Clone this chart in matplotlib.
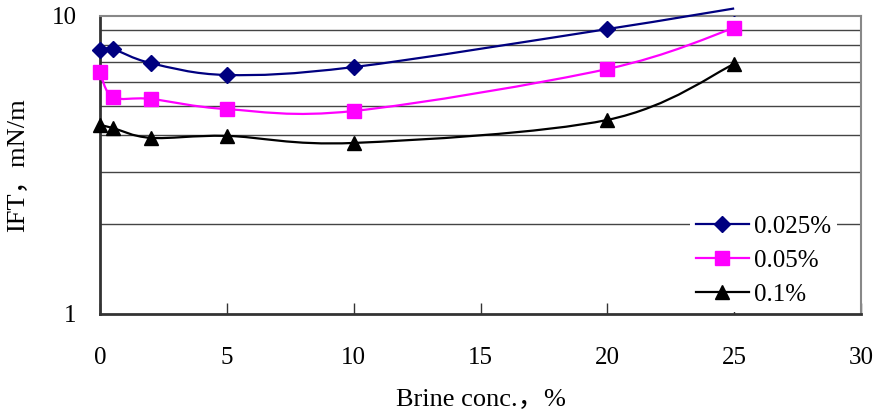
import numpy as np
import matplotlib
matplotlib.use("Agg")
import matplotlib.pyplot as plt
from matplotlib.path import Path
from matplotlib.patches import PathPatch
from matplotlib.transforms import Bbox, TransformedBbox
from matplotlib.ticker import FixedLocator, LogLocator, NullFormatter, FixedFormatter

plt.rcParams['font.family'] = ['Liberation Serif', 'Noto Sans CJK SC']

# brine concentration, %
brine = [0, 0.5, 2, 5, 10, 20, 25]
# IFT, mN/m, for each surfactant concentration
ift_0025 = [7.69, 7.75, 6.95, 6.34, 6.74, 9.04, 10.6]
ift_005 = [6.49, 5.35, 5.27, 4.87, 4.80, 6.64, 9.12]
ift_01 = [4.31, 4.21, 3.90, 3.96, 3.75, 4.48, 6.90]

series = [
    ("0.025%", ift_0025, "#000080", "D", 8),
    ("0.05%", ift_005, "#FF00FF", "s", 9.5),
    ("0.1%", ift_01, "#000000", "^", 10),
]


def smooth_path(xs, ys):
    """Excel-like smoothed line: cubic Bezier through the points (in x, log y)."""
    px = np.asarray(xs, float)
    py = np.log10(np.asarray(ys, float))
    n = len(px)
    verts = [(px[0], py[0])]
    codes = [Path.MOVETO]
    for i in range(n - 1):
        i0 = max(i - 1, 0)
        i3 = min(i + 2, n - 1)
        c1 = (px[i] + (px[i + 1] - px[i0]) / 6, py[i] + (py[i + 1] - py[i0]) / 6)
        c2 = (px[i + 1] - (px[i3] - px[i]) / 6, py[i + 1] - (py[i3] - py[i]) / 6)
        verts += [c1, c2, (px[i + 1], py[i + 1])]
        codes += [Path.CURVE4] * 3
    verts = [(x, 10 ** y) for x, y in verts]
    return Path(verts, codes)


fig = plt.figure(figsize=(8.77, 4.17), dpi=100)
ax = fig.add_axes([100 / 877, 1 - 314 / 417, 761 / 877, 298 / 417])
ax.set_yscale('log')
ax.set_xlim(0, 30)
ax.set_ylim(1, 10)

# markers may spill over the left edge, but not over the top
clip = TransformedBbox(Bbox([[-0.05, -0.05], [1.0, 1.0]]), ax.transAxes)

handles = []
for label, vals, color, marker, ms in series:
    patch = PathPatch(smooth_path(brine, vals), facecolor='none', edgecolor=color,
                      lw=1.6, zorder=3, clip_on=False)
    ax.add_patch(patch)
    pts, = ax.plot(brine, vals, color=color, marker=marker, ms=ms,
                   linestyle='none', zorder=4)
    pts.set_clip_box(clip)
    handles.append(ax.plot([], [], color=color, lw=1.6, marker=marker, ms=ms,
                           label=label)[0])

# y axis: labels at 1 and 10 only, gridlines at 2..9
ax.yaxis.set_major_locator(FixedLocator([1, 10]))
ax.yaxis.set_major_formatter(FixedFormatter(['1', '10']))
ax.yaxis.set_minor_locator(LogLocator(base=10, subs=np.arange(2, 10)))
ax.yaxis.set_minor_formatter(NullFormatter())
ax.yaxis.grid(True, which='minor', color='#444444', lw=1.0)
ax.tick_params(axis='y', which='both', length=0, pad=17, labelsize=18)

ax.set_xticks(np.arange(0, 31, 5))
ax.tick_params(axis='x', direction='in', length=8, width=1, color='#333333',
               pad=24, labelsize=18)

for side in ['left', 'bottom']:
    ax.spines[side].set_color('#333333')
    ax.spines[side].set_linewidth(2)
for side in ['top', 'right']:
    ax.spines[side].set_color('#888888')
    ax.spines[side].set_linewidth(1.5)

ax.set_xlabel('Brine conc.，%', fontsize=19, labelpad=14)
ax.set_ylabel('IFT，mN/m', fontsize=19, labelpad=16)

leg = ax.legend(handles=handles, loc='lower right', bbox_to_anchor=(0.985, -0.035),
                fontsize=18, frameon=True, fancybox=False, framealpha=1,
                facecolor='white', edgecolor='none', handlelength=2.1,
                labelspacing=0.45, handletextpad=0.2, borderpad=0.25)

fig.savefig('out.png', dpi=100)
